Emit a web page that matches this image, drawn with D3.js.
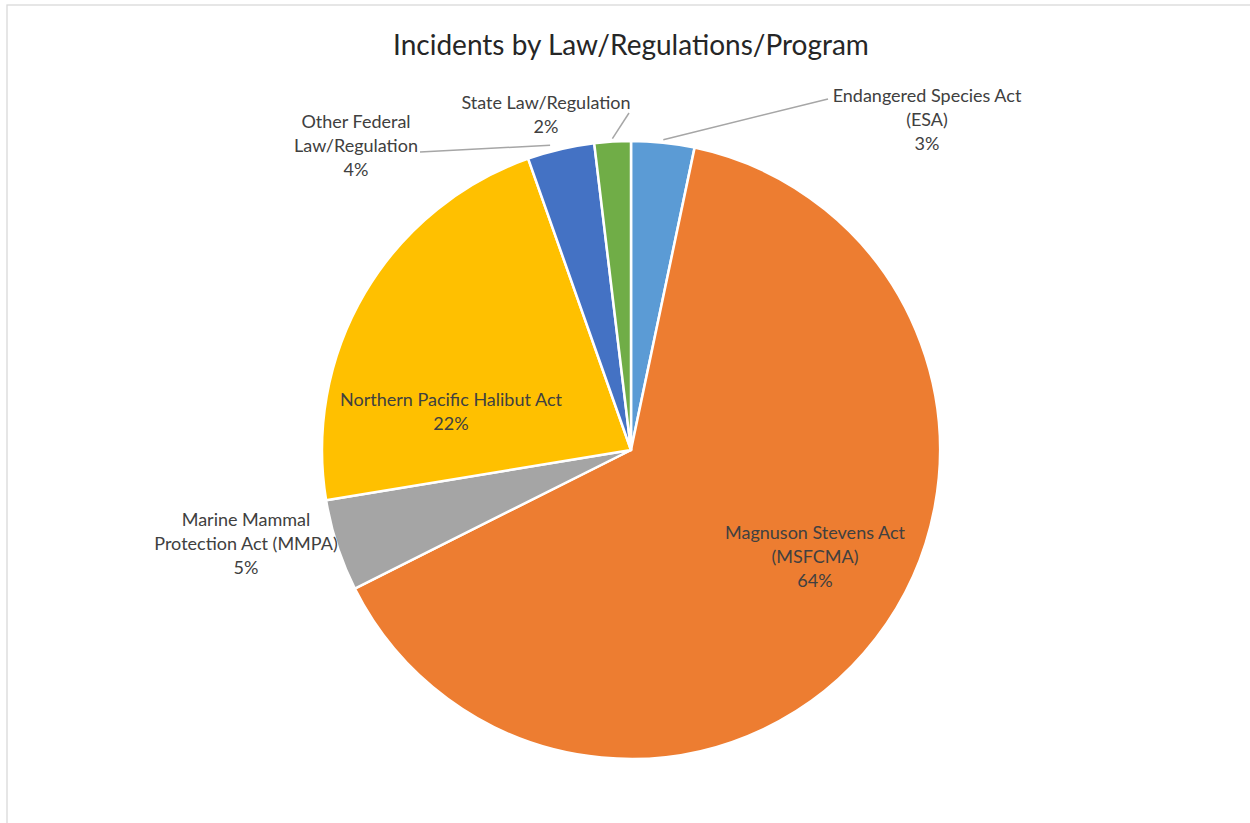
<!DOCTYPE html>
<html><head><meta charset="utf-8">
<script src="https://cdn.jsdelivr.net/npm/d3@7"></script>
<style>body{margin:0;background:#fff;}svg{display:block;font-family:Lato,"Open Sans",sans-serif;}</style>
</head><body>
<script>
const categories = ["Endangered Species Act (ESA)","Magnuson Stevens Act (MSFCMA)","Marine Mammal Protection Act (MMPA)","Northern Pacific Halibut Act","Other Federal Law/Regulation","State Law/Regulation"];
const values = [3.3, 64.3, 4.8, 22.2, 3.5, 1.9];
const colors = ["#5B9BD5","#ED7D31","#A5A5A5","#FFC000","#4472C4","#70AD47"];
const labelLines = [["Endangered Species Act","(ESA)"],["Magnuson Stevens Act","(MSFCMA)"],["Marine Mammal","Protection Act (MMPA)"],["Northern Pacific Halibut Act"],["Other Federal","Law/Regulation"],["State Law/Regulation"]];
// label placement (centre x, first-line y) and leader end points
const labelPos = [[927,96],[815,533],[246,520],[451,400],[356,122],[546,103]];
const leaders = [[828,99],null,null,null,[420,152],[629,113]];

const W=1250,H=823, cx=631, cy=450, R=309;
const svg=d3.select("body").append("svg").attr("width",W).attr("height",H);
svg.append("rect").attr("x",7).attr("y",5).attr("width",W).attr("height",H).attr("fill","#fff").attr("stroke","#d9d9d9").attr("stroke-width",1.3);
svg.append("text").attr("x",cx).attr("y",55).attr("text-anchor","middle").attr("font-size",28).attr("fill","#262626").text("Incidents by Law/Regulations/Program");

const total=d3.sum(values);
const pie=d3.pie().sort(null).value(d=>d)(values);
const arc=d3.arc().innerRadius(0).outerRadius(R);
const g=svg.append("g").attr("transform",`translate(${cx},${cy})`);
g.selectAll("path").data(pie).join("path").attr("d",arc).attr("fill",(d,i)=>colors[i]).attr("stroke","#fff").attr("stroke-width",2.5).attr("stroke-linejoin","round");

// leader lines
const outerArc=d3.arc().innerRadius(R+3).outerRadius(R+3);
pie.forEach((d,i)=>{
  if(!leaders[i]) return;
  const p=outerArc.centroid(d);
  const L=leaders[i];
  let pts;
  if(i===4) pts=[[p[0]+cx-10,p[1]+cy-1],[L[0]+ 0,L[1]]];
  else pts=[[p[0]+cx,p[1]+cy],L];
  svg.append("path").attr("d",d3.line()(pts)).attr("stroke","#a6a6a6").attr("stroke-width",1.5).attr("fill","none");
});

pie.forEach((d,i)=>{
  const lines=labelLines[i].concat([Math.round(values[i]/total*100)+"%"]);
  const t=svg.append("text").attr("text-anchor","middle").attr("font-size",18).attr("fill","#404040");
  lines.forEach((s,k)=>t.append("tspan").attr("x",labelPos[i][0]).attr("y",labelPos[i][1]+k*24+6).text(s));
});
</script>
</body></html>
